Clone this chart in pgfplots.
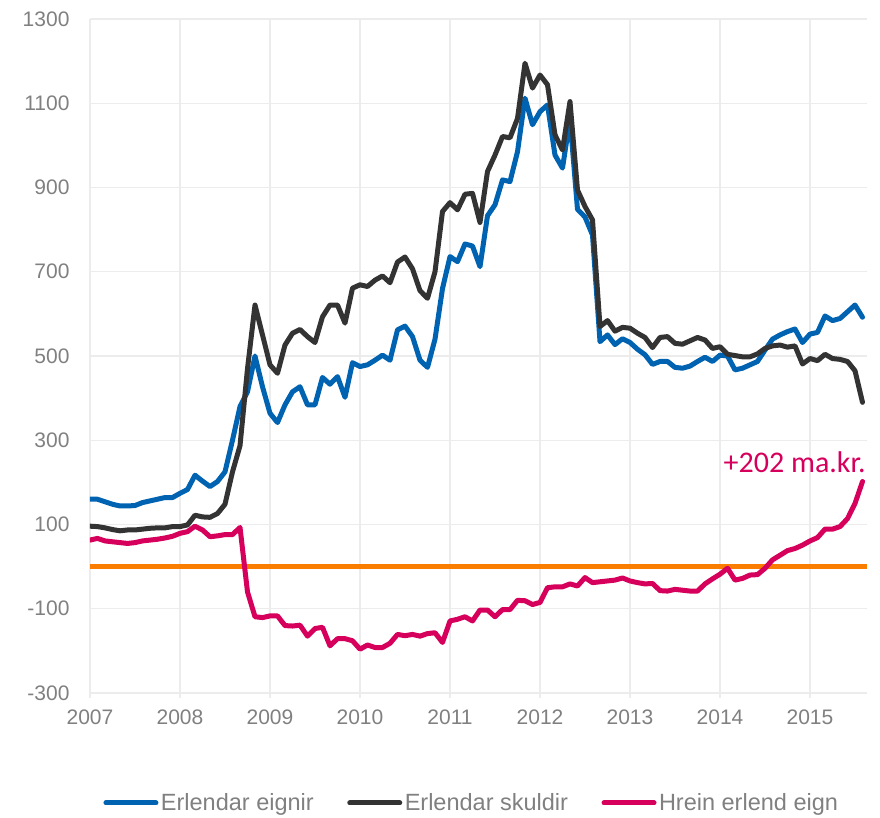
\documentclass[border=0pt]{standalone}
\usepackage{pgfplots}
\pgfplotsset{compat=1.18}
\usepackage{pgfplotstable}
\usepackage{fontspec}
\setmainfont{Liberation Sans}
\newfontfamily\calib{Carlito}

\definecolor{assetblue}{RGB}{0,99,178}
\definecolor{liabgray}{RGB}{51,51,51}
\definecolor{netred}{RGB}{214,0,92}
\definecolor{zeroorange}{RGB}{250,125,0}
\definecolor{gridgray}{RGB}{236,236,236}
\definecolor{labelgray}{RGB}{128,128,128}

% Monthly foreign assets, foreign liabilities and net position (ma.kr.)
\pgfplotstableread{
yr   mo assets liabilities net
2007 1  160  96   63
2007 2  160  95   67
2007 3  154  92   61
2007 4  148  88   59
2007 5  144  85   57
2007 6  144  87   55
2007 7  145  87   57
2007 8  152  89   61
2007 9  156  91   63
2007 10 160  92   65
2007 11 164  92   68
2007 12 164  95   72
2008 1  174  95   79
2008 2  183  99   83
2008 3  217  122  96
2008 4  203  118  87
2008 5  190  117  71
2008 6  202  126  73
2008 7  225  148  76
2008 8  300  225  76
2008 9  380  287  93
2008 10 415  470  -60
2008 11 500  621  -119
2008 12 427  550  -121
2009 1  364  479  -117
2009 2  342  459  -117
2009 3  384  526  -140
2009 4  415  554  -141
2009 5  427  563  -139
2009 6  384  546  -165
2009 7  384  532  -147
2009 8  449  593  -144
2009 9  433  621  -188
2009 10 451  621  -171
2009 11 402  578  -171
2009 12 484  661  -176
2010 1  475  669  -196
2010 2  479  665  -186
2010 3  490  680  -192
2010 4  502  690  -192
2010 5  490  674  -182
2010 6  562  723  -161
2010 7  571  735  -164
2010 8  546  707  -161
2010 9  490  655  -165
2010 10 473  637  -159
2010 11 540  700  -157
2010 12 660  843  -180
2011 1  736  864  -129
2011 2  724  847  -125
2011 3  766  884  -119
2011 4  761  886  -129
2011 5  712  817  -103
2011 6  833  938  -103
2011 7  859  977  -119
2011 8  918  1021 -102
2011 9  914  1018 -102
2011 10 985  1064 -80
2011 11 1112 1195 -81
2011 12 1049 1136 -90
2012 1  1080 1167 -85
2012 2  1096 1144 -50
2012 3  977  1025 -48
2012 4  946  989  -48
2012 5  1063 1104 -41
2012 6  848  894  -46
2012 7  830  855  -26
2012 8  787  823  -38
2012 9  534  570  -36
2012 10 550  584  -34
2012 11 527  559  -32
2012 12 541  568  -27
2013 1  532  566  -34
2013 2  516  554  -38
2013 3  503  544  -41
2013 4  480  520  -40
2013 5  487  544  -57
2013 6  487  546  -58
2013 7  473  530  -54
2013 8  471  528  -56
2013 9  476  536  -58
2013 10 487  544  -58
2013 11 497  538  -41
2013 12 487  518  -29
2014 1  502  522  -18
2014 2  500  504  -4
2014 3  467  501  -32
2014 4  471  498  -28
2014 5  479  498  -20
2014 6  487  505  -19
2014 7  514  518  -4
2014 8  540  524  16
2014 9  550  526  27
2014 10 558  521  38
2014 11 564  524  43
2014 12 532  481  51
2015 1  552  494  61
2015 2  556  489  69
2015 3  595  504  89
2015 4  584  494  89
2015 5  589  492  95
2015 6  605  487  114
2015 7  621  465  150
2015 8  592  390  202
}\foreign

\begin{document}
\begin{tikzpicture}[x=1pt,y=1pt]
\useasboundingbox (-90,-125) rectangle (790,693);
\begin{axis}[
  scale only axis,
  width=777pt, height=674pt,
  xmin=2007, xmax=2015.6333,
  ymin=-300, ymax=1300,
  xtick={2007,2008,...,2015},
  ytick={-300,-100,...,1300},
  grid=major,
  major grid style={draw=gridgray, line width=1.3pt},
  axis line style={draw=none},
  xtick align=outside,
  tick pos=left,
  major tick length=5pt,
  xtick style={draw=gridgray, line width=1.3pt},
  ytick style={draw=none},
  /pgf/number format/1000 sep={},
  /pgf/number format/assume math mode=true,
  tick label style={font=\fontsize{21}{25}\selectfont, text=labelgray},
  yticklabel style={xshift=-17pt},
  xticklabel style={yshift=-8pt},
  legend columns=3,
  legend style={
    at={(axis description cs:0.4916,-0.1632)}, anchor=center,
    draw=none, fill=none,
    font=\fontsize{23.5}{27}\selectfont, text=labelgray,
    /tikz/every even column/.append style={column sep=31pt},
    nodes={inner sep=2.5pt},
  },
  legend image code/.code={
    \draw[#1, line width=5pt, line cap=round] (0pt,0pt) -- (50pt,0pt);
  },
  every axis plot/.append style={line width=5pt, line join=round, line cap=round},
]
% zero line
\addplot[zeroorange, line cap=butt, forget plot] coordinates {(2007,0) (2015.6333,0)};
\addplot[assetblue] table[x expr={\thisrow{yr}+(\thisrow{mo}-1)/12}, y=assets] {\foreign};
\addlegendentry{Erlendar eignir}
\addplot[liabgray] table[x expr={\thisrow{yr}+(\thisrow{mo}-1)/12}, y=liabilities] {\foreign};
\addlegendentry{Erlendar skuldir}
\addplot[netred] table[x expr={\thisrow{yr}+(\thisrow{mo}-1)/12}, y=net] {\foreign};
\addlegendentry{Hrein erlend eign}
\node[anchor=east, text=netred, font=\calib\fontsize{30}{34}\selectfont, inner sep=0pt]
  at (axis cs:2015.62,248) {+202 ma.kr.};
\end{axis}
\end{tikzpicture}
\end{document}
